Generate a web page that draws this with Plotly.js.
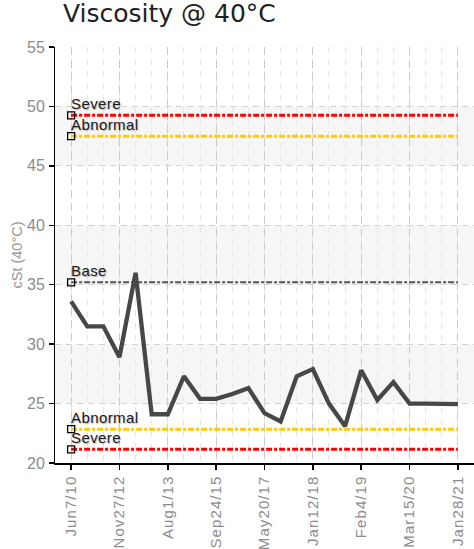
<!DOCTYPE html>
<html>
<head>
<meta charset="utf-8">
<script src="https://cdn.plot.ly/plotly-3.0.1.min.js"></script>
<style>
  html, body { margin: 0; padding: 0; background: #fff; }
  #chart { width: 474px; height: 549px; }
  .xtick text { letter-spacing: 1.1px; }
  .ytick text { letter-spacing: 0.3px; }
  .annotation-text { letter-spacing: 0.4px; }
</style>
</head>
<body>
<div id="chart"></div>
<script>
// Oil sample history: viscosity at 40 °C, one value per sample
const sampleIndex = [0, 1, 2, 3, 4, 5, 6, 7, 8, 9, 10, 11, 12, 13, 14, 15, 16, 17, 18, 19, 20, 21, 22, 23, 24];
const viscosity = [33.6, 31.5, 31.5, 28.9, 36.0, 24.1, 24.1, 27.3, 25.4, 25.4, 25.8, 26.3, 24.2, 23.5,
                   27.3, 27.9, 25.0, 23.1, 27.8, 25.3, 26.8, 25.0, 25.0, 25.0, 24.95];

// Sample dates shown on the axis (every third sample)
const tickIndex = [0, 3, 6, 9, 12, 15, 18, 21, 24];
const tickLabels = ['Jun7/10', 'Nov27/12', 'Aug1/13', 'Sep24/15', 'May20/17', 'Jan12/18', 'Feb4/19', 'Mar15/20', 'Jan28/21'];

// Alarm limits and baseline
const limitNames = ['Severe', 'Abnormal', 'Base', 'Abnormal', 'Severe'];
const limitValues = [49.25, 47.5, 35.2, 22.85, 21.15];
const limitColors = ['#ff0000', '#ffcc00', '#555555', '#ffcc00', '#ff0000'];
const limitWidths = [3, 3, 2, 3, 3];

const yTicks = [20, 25, 30, 35, 40, 45, 50, 55];

const sans = '"Liberation Sans", Arial, sans-serif';
const first = sampleIndex[0];
const last = sampleIndex[sampleIndex.length - 1];

const traces = [];

// Limit lines across the whole history
limitValues.forEach((v, i) => {
  traces.push({
    x: [first, last], y: [v, v],
    type: 'scatter', mode: 'lines',
    line: { color: limitColors[i], width: limitWidths[i], dash: '6px,2px,3px,2px' },
    hoverinfo: 'skip', showlegend: false
  });
});

// Open square markers at the start of each limit
traces.push({
  x: limitValues.map(() => first), y: limitValues,
  type: 'scatter', mode: 'markers',
  marker: { symbol: 'square-open', size: 7, color: '#000', line: { width: 1.3, color: '#000' } },
  hoverinfo: 'skip', showlegend: false
});

// Measured viscosity
traces.push({
  x: sampleIndex, y: viscosity,
  type: 'scatter', mode: 'lines',
  line: { color: '#474747', width: 4.3 },
  showlegend: false
});

// Alternating horizontal bands between y ticks
const shapes = [];
for (let i = 1; i < yTicks.length - 1; i += 2) {
  shapes.push({
    type: 'rect', xref: 'paper', yref: 'y', x0: 0, x1: 1,
    y0: yTicks[i], y1: yTicks[i + 1],
    fillcolor: '#f6f6f6', line: { width: 0 }, layer: 'below'
  });
}

const annotations = limitValues.map((v, i) => ({
  x: first, y: v, xref: 'x', yref: 'y',
  text: limitNames[i], showarrow: false,
  xanchor: 'left', yanchor: 'bottom', xshift: -2, yshift: 1,
  font: { family: sans, size: 15, color: '#1a1a1a', shadow: '1px 1px 1px rgba(0,0,0,0.25)' }
}));

const xRange = [first - 1, last + 1];
const yRange = [yTicks[0], yTicks[yTicks.length - 1]];

const layout = {
  width: 474, height: 549,
  margin: { l: 55, r: 0, t: 47, b: 86, pad: 0 },
  paper_bgcolor: '#fff', plot_bgcolor: '#fff',
  title: {
    text: 'Viscosity @ 40°C',
    font: { family: '"DejaVu Sans", Verdana, sans-serif', size: 25, color: '#222' },
    x: 63 / 474, xanchor: 'left', xref: 'container',
    y: 1 - 4 / 549, yanchor: 'top', yref: 'container'
  },
  xaxis: {
    range: xRange, tickmode: 'array', tickvals: tickIndex, ticktext: tickLabels,
    tickangle: -90, ticks: 'outside', ticklen: 5, tickwidth: 1.5, tickcolor: '#000',
    showline: true, linecolor: '#000', linewidth: 1.5,
    showgrid: true, gridcolor: '#cbcbcb', gridwidth: 1.2, griddash: '8px,5px',
    minor: { tickmode: 'linear', tick0: 0, dtick: 1, showgrid: true, gridcolor: '#e6e6e6', gridwidth: 1, griddash: '6px,6px', ticks: '' },
    zeroline: false,
    tickfont: { family: sans, size: 15, color: '#8c8c8c' },
    fixedrange: true
  },
  yaxis: {
    range: yRange, tickmode: 'array', tickvals: yTicks,
    ticks: 'outside', ticklen: 5, tickwidth: 1.5, tickcolor: '#000',
    showline: true, linecolor: '#000', linewidth: 1.5,
    showgrid: true, gridcolor: '#d2d2d2', gridwidth: 1, griddash: '6px,5px',
    zeroline: false,
    tickfont: { family: sans, size: 16, color: '#8c8c8c' },
    title: { text: 'cSt (40°C)', font: { family: sans, size: 14.5, color: '#969696' }, standoff: 1 },
    fixedrange: true
  },
  // Inside half of the crossing tick marks
  xaxis2: {
    overlaying: 'x', anchor: 'y', side: 'bottom', range: xRange,
    tickmode: 'array', tickvals: tickIndex, showticklabels: false,
    ticks: 'inside', ticklen: 5, tickwidth: 1.5, tickcolor: '#000',
    showgrid: false, showline: false, zeroline: false, fixedrange: true
  },
  yaxis2: {
    overlaying: 'y', anchor: 'x', side: 'left', range: yRange,
    tickmode: 'array', tickvals: yTicks, showticklabels: false,
    ticks: 'inside', ticklen: 5, tickwidth: 1.5, tickcolor: '#000',
    showgrid: false, showline: false, zeroline: false, fixedrange: true
  },
  shapes: shapes,
  annotations: annotations,
  showlegend: false,
  hovermode: false
};

Plotly.newPlot('chart', traces, layout, { displayModeBar: false, staticPlot: true });
</script>
</body>
</html>
